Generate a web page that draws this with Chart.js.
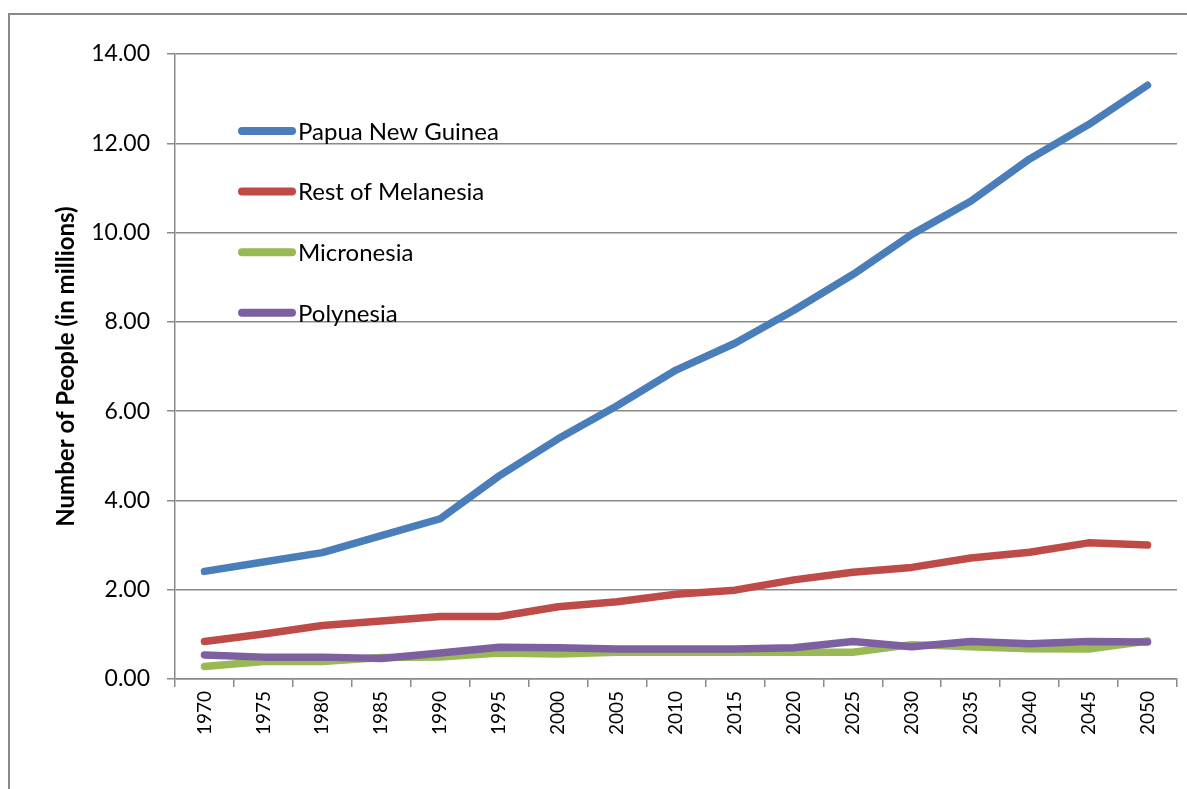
<!DOCTYPE html>
<html>
<head>
<meta charset="utf-8">
<script src="https://cdn.jsdelivr.net/npm/chart.js@4/dist/chart.umd.min.js"></script>
<style>
  html, body { margin: 0; padding: 0; background: #fff; }
  canvas { display: block; }
</style>
</head>
<body>
<canvas id="popChart" width="1187" height="789"></canvas>
<script>
"use strict";

const years = ["1970", "1975", "1980", "1985", "1990", "1995", "2000", "2005", "2010",
  "2015", "2020", "2025", "2030", "2035", "2040", "2045", "2050"];
const papuaNewGuinea = [2.41, 2.62, 2.83, 3.21, 3.59, 4.55, 5.38, 6.12, 6.92, 7.52, 8.26,
  9.06, 9.96, 10.70, 11.65, 12.42, 13.30];
const restOfMelanesia = [0.84, 1.01, 1.20, 1.30, 1.40, 1.40, 1.62, 1.73, 1.90, 1.99, 2.22,
  2.39, 2.50, 2.71, 2.84, 3.05, 3.00];
const micronesia = [0.28, 0.39, 0.39, 0.48, 0.49, 0.58, 0.56, 0.60, 0.60, 0.60, 0.60,
  0.60, 0.77, 0.72, 0.68, 0.67, 0.85];
const polynesia = [0.54, 0.49, 0.49, 0.46, 0.58, 0.71, 0.70, 0.67, 0.67, 0.67, 0.70,
  0.84, 0.72, 0.84, 0.79, 0.84, 0.83];
const seriesNames = ["Papua New Guinea", "Rest of Melanesia", "Micronesia", "Polynesia"];
const yTicks = [0, 2, 4, 6, 8, 10, 12, 14];

const colors = ["#4a7ebb", "#be4b48", "#98b954", "#7d60a0"];
const axisGray = "#8a8a8a";
const fontFamily = "Lato, 'Open Sans', sans-serif";

Chart.defaults.font.family = fontFamily;
Chart.defaults.color = "#000";

// legend sits inside the plot, like the spreadsheet original
const insideLegend = {
  id: "insideLegend",
  afterDraw(chart) {
    const ctx = chart.ctx;
    ctx.save();
    ctx.font = "24px " + fontFamily;
    ctx.textBaseline = "middle";
    ctx.lineCap = "round";
    chart.data.datasets.forEach((ds, i) => {
      const y = 131 + i * 60.6;
      ctx.strokeStyle = ds.borderColor;
      ctx.lineWidth = 8;
      ctx.beginPath();
      ctx.moveTo(242, y);
      ctx.lineTo(292, y);
      ctx.stroke();
      ctx.fillStyle = "#000";
      ctx.fillText(ds.label, 298, y + 1);
    });
    ctx.restore();
  },
};

const outerFrame = {
  id: "outerFrame",
  beforeDraw(chart) {
    const ctx = chart.ctx;
    ctx.save();
    ctx.fillStyle = "#fff";
    ctx.fillRect(0, 0, chart.width, chart.height);
    ctx.strokeStyle = axisGray;
    ctx.lineWidth = 2;
    ctx.strokeRect(9, 14, 1300, 900);
    ctx.restore();
  },
};

const seriesData = [papuaNewGuinea, restOfMelanesia, micronesia, polynesia];

new Chart(document.getElementById("popChart").getContext("2d"), {
  type: "line",
  data: {
    labels: years,
    datasets: seriesData.map((values, i) => ({
      label: seriesNames[i],
      data: values,
      borderColor: colors[i],
      backgroundColor: colors[i],
      borderWidth: 7.5,
      borderCapStyle: "round",
      borderJoinStyle: "round",
      pointRadius: 0,
      tension: 0,
      fill: false,
      order: seriesData.length - i,
    })),
  },
  options: {
    responsive: false,
    animation: false,
    layout: { padding: { top: 54, right: 10, left: 0, bottom: 0 } },
    plugins: {
      legend: { display: false },
      tooltip: { enabled: false },
    },
    scales: {
      x: {
        offset: true,
        afterFit(scale) { scale.height = 110; },
        grid: {
          offset: true,
          drawOnChartArea: false,
          drawTicks: true,
          tickLength: 8,
          color: axisGray,
          lineWidth: 1.5,
        },
        border: { color: axisGray, width: 1.5 },
        ticks: {
          minRotation: 90,
          maxRotation: 90,
          autoSkip: false,
          padding: 4,
          font: { size: 19 },
        },
      },
      y: {
        min: 0,
        max: 14,
        afterFit(scale) { scale.width = 175; },
        afterBuildTicks(scale) { scale.ticks = yTicks.map((v) => ({ value: v })); },
        grid: { color: axisGray, lineWidth: 1.5, tickLength: 8 },
        border: { color: axisGray, width: 1.5 },
        ticks: {
          padding: 17,
          font: { size: 23 },
          callback: (v) => Number(v).toFixed(2),
        },
        title: {
          display: true,
          text: "Number of People (in millions)",
          font: { size: 24, weight: "bold" },
          padding: { top: 52, bottom: 0 },
        },
      },
    },
  },
  plugins: [outerFrame, insideLegend],
});
</script>
</body>
</html>
